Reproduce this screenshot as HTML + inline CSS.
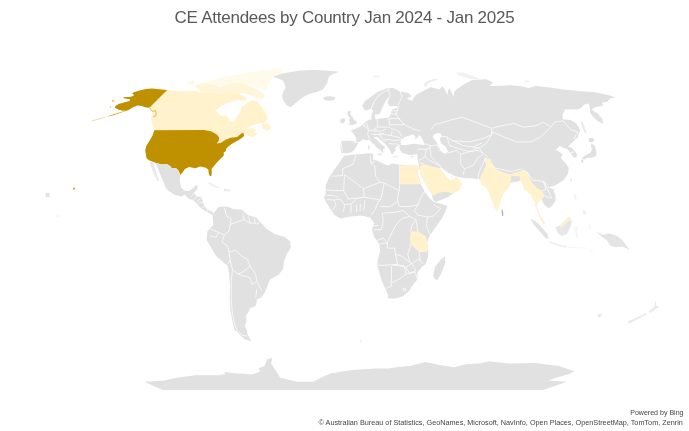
<!DOCTYPE html>
<html><head><meta charset="utf-8"><title>CE Attendees by Country</title>
<style>
html,body{margin:0;padding:0;background:#fff;}
body{width:689px;height:431px;position:relative;overflow:hidden;font-family:"Liberation Sans",sans-serif;}
#title{position:absolute;left:0;top:8px;width:689px;text-align:center;font-size:17px;color:#595959;white-space:nowrap;letter-spacing:-0.25px;}
#map{position:absolute;left:0;top:0;}
.ft{position:absolute;right:5.5px;font-size:7.05px;color:#454545;white-space:nowrap;}
</style></head><body>
<svg id="map" width="689" height="431" viewBox="0 0 689 431">
<path d="M272.8 77.0 L280.0 74.0 L287.9 72.4 L300.0 70.5 L313.4 70.1 L326.0 70.5 L339.0 71.7 L333.0 74.0 L329.7 75.9 L328.0 79.0 L327.3 82.9 L325.0 86.5 L322.7 89.8 L317.0 92.0 L311.1 93.3 L306.0 95.5 L301.8 98.0 L298.0 101.0 L294.8 103.8 L292.0 106.0 L290.2 107.3 L287.0 105.5 L284.4 102.6 L282.5 99.0 L282.1 95.6 L283.5 91.0 L285.5 87.5 L284.5 84.0 L283.2 80.5 L278.0 78.5Z" fill="#e1e1e1"/>
<path d="M323.0 98.0 L326.0 96.5 L331.0 96.3 L335.5 97.5 L334.0 100.0 L329.0 100.8 L325.0 100.2Z" fill="#e1e1e1"/>
<path d="M167.0 90.0 L172.0 90.5 L181.0 91.3 L195.0 91.0 L202.0 92.2 L209.0 93.0 L221.0 93.3 L232.0 93.0 L240.0 94.5 L247.0 97.5 L245.0 100.8 L239.0 100.3 L233.0 101.3 L226.0 103.5 L220.1 106.8 L215.9 110.5 L221.0 115.7 L227.9 115.7 L229.7 120.1 L233.1 122.7 L236.6 117.5 L240.1 112.2 L241.9 106.5 L245.3 104.5 L249.0 102.0 L252.3 100.0 L257.5 101.8 L261.9 107.0 L266.2 114.0 L268.0 119.2 L264.5 122.7 L258.0 123.5 L250.0 126.0 L246.0 129.0 L252.0 128.0 L256.0 130.0 L254.0 133.0 L258.0 133.5 L253.0 137.0 L249.0 136.5 L246.0 134.5 L244.7 134.6 L243.8 133.3 L240.0 136.5 L231.0 139.5 L226.0 141.5 L221.5 144.2 L217.5 144.6 L216.0 140.0 L214.0 134.0 L204.0 132.0 L154.2 132.0 L153.6 128.0 L153.0 126.0 L151.6 122.3 L151.0 117.0 L152.5 112.5 L149.7 107.4Z" fill="#fff2cc"/>
<path d="M262.0 124.0 L268.0 123.0 L271.0 128.0 L267.0 131.0 L263.0 129.0Z" fill="#fff2cc"/>
<path d="M195.0 85.5 L203.0 83.3 L212.0 84.2 L220.0 86.5 L228.0 84.5 L236.0 82.2 L246.0 84.0 L254.0 88.0 L261.0 92.0 L265.0 96.0 L262.0 99.0 L256.0 97.5 L250.0 95.0 L243.0 93.0 L238.0 95.0 L232.0 93.0 L221.0 93.3 L209.0 93.0 L200.0 91.5Z" fill="#fff2cc" fill-opacity="0.75"/>
<path d="M188.0 81.0 L194.0 80.0 L195.0 84.0 L189.0 84.5Z" fill="#fff2cc" fill-opacity="0.45"/>
<path d="M196.0 84.5 L210.0 80.5 L222.0 78.0 L243.5 73.5 L265.0 70.2 L280.6 68.3 L283.5 70.8 L276.0 74.5 L271.0 79.0 L269.0 85.0 L266.0 90.0 L258.0 88.0 L250.0 85.0 L240.0 83.0 L228.0 84.5 L215.0 85.5 L205.0 84.5Z" fill="#fff2cc" fill-opacity="0.42"/>
<path d="M167.2 90.1 L161.4 89.6 L152.0 88.4 L145.8 88.9 L139.5 90.4 L133.2 92.5 L132.2 93.6 L134.3 95.2 L131.1 96.7 L123.8 97.2 L123.3 98.3 L130.1 99.3 L129.6 100.9 L123.8 102.5 L118.6 104.0 L115.4 106.1 L114.9 107.7 L118.6 109.8 L122.8 110.8 L126.0 110.4 L114.0 114.2 L105.0 117.2 L114.2 114.9 L128.5 110.0 L132.2 107.7 L137.4 105.6 L141.6 106.1 L145.2 107.2 L149.4 107.7Z" fill="#bf9000"/>
<path d="M154.2 130.2 L203.9 130.1 L211.6 131.4 L216.7 134.6 L219.3 137.8 L218.6 141.0 L216.7 143.5 L220.5 142.9 L225.7 139.7 L230.8 137.8 L237.1 137.1 L241.6 133.3 L243.5 132.9 L244.2 135.9 L241.0 138.4 L237.1 141.0 L233.3 142.9 L229.5 145.4 L226.3 148.6 L225.7 151.2 L223.7 152.5 L223.7 155.7 L220.5 158.8 L216.7 162.7 L213.5 166.5 L211.6 169.1 L211.8 172.9 L211.2 176.3 L209.6 175.8 L208.8 173.5 L208.4 169.7 L205.9 167.8 L200.1 166.5 L195.3 168.2 L189.1 167.0 L184.9 169.1 L182.8 172.2 L180.3 175.0 L178.4 170.4 L175.9 167.9 L172.0 168.5 L170.1 166.0 L166.9 164.1 L161.8 164.4 L155.4 162.8 L149.0 160.2 L146.5 158.3 L145.9 154.5 L145.2 150.0 L146.5 145.5 L149.7 140.4 L152.9 134.7Z" fill="#bf9000"/>
<path d="M112.0 100.5 L114.0 100.2 L114.2 101.4 L112.3 101.6Z" fill="#bf9000" fill-opacity="0.8"/>
<path d="M109.8 106.3 L111.2 106.3 L111.2 107.5 L109.8 107.5Z" fill="#bf9000" fill-opacity="0.6"/>
<path d="M155.4 162.8 L161.8 164.4 L166.9 164.1 L170.1 166.0 L172.0 168.5 L175.9 167.9 L178.4 170.4 L180.3 175.0 L179.7 181.1 L181.2 187.4 L184.9 191.0 L189.1 191.0 L193.2 187.9 L195.9 185.3 L197.9 185.8 L197.2 189.0 L194.3 192.7 L196.4 196.3 L201.5 197.0 L203.0 202.1 L204.4 206.4 L208.1 210.1 L211.0 210.8 L213.9 213.0 L213.1 215.9 L209.5 213.0 L205.9 211.5 L201.5 208.6 L197.9 205.0 L193.5 200.6 L188.5 198.5 L184.8 194.6 L181.8 196.6 L174.4 194.7 L168.2 190.5 L165.6 187.4 L163.5 182.1 L160.9 175.9 L158.3 169.6 L155.6 163.6Z" fill="#e1e1e1"/>
<path d="M149.5 161.3 L152.8 162.3 L155.5 170.0 L159.0 180.5 L158.0 181.5 L154.0 174.0 L151.0 167.0Z" fill="#e0e0ea" fill-opacity="0.75"/>
<path d="M207.0 181.8 L212.4 184.0 L218.2 187.0 L221.5 188.8 L217.0 188.0 L211.0 185.3Z" fill="#e1e1e1" fill-opacity="0.6"/>
<path d="M224.0 188.7 L230.0 189.5 L230.0 191.5 L224.0 191.0Z" fill="#e1e1e1" fill-opacity="0.7"/>
<path d="M213.9 213.0 L217.9 207.5 L222.0 206.5 L227.4 206.8 L233.5 208.9 L242.2 209.8 L247.5 215.0 L256.2 217.6 L261.4 222.9 L266.6 229.0 L275.3 234.2 L284.0 236.8 L290.1 241.2 L291.0 247.2 L286.7 254.2 L284.0 261.2 L283.2 268.7 L278.8 274.8 L270.1 279.2 L267.5 286.1 L264.9 292.2 L261.4 297.4 L257.0 299.2 L256.2 304.4 L254.4 307.0 L250.1 307.9 L248.3 312.2 L245.7 315.7 L246.6 321.0 L244.9 326.2 L246.6 329.7 L247.6 334.7 L251.5 341.2 L244.9 339.4 L237.1 332.0 L234.4 329.7 L232.7 322.7 L230.4 310.5 L229.7 298.3 L230.1 286.1 L229.2 273.9 L227.4 265.2 L224.8 263.8 L216.1 256.0 L210.9 247.2 L206.5 239.4 L207.4 231.6 L213.5 224.6 L212.6 217.6Z" fill="#e1e1e1"/>
<path d="M344.0 155.7 L351.8 154.8 L362.2 153.9 L370.1 153.1 L373.6 154.8 L372.7 159.2 L379.7 161.8 L385.0 164.5 L388.5 165.6 L391.9 163.5 L398.8 164.4 L408.0 165.5 L417.4 165.5 L419.2 167.2 L417.4 172.4 L419.2 178.5 L420.9 184.3 L425.0 192.0 L430.2 199.1 L434.3 202.1 L442.4 204.2 L447.6 206.2 L442.4 217.4 L436.3 226.6 L430.2 234.8 L427.1 241.9 L428.2 250.1 L428.2 256.2 L426.1 263.4 L421.9 267.0 L417.5 272.2 L417.5 279.2 L413.1 284.4 L408.8 291.3 L402.7 296.6 L394.0 298.7 L387.9 298.3 L387.9 294.8 L385.3 288.7 L381.8 280.9 L379.2 272.2 L377.1 264.4 L378.2 258.3 L380.2 251.1 L379.2 244.0 L374.1 236.8 L372.0 229.7 L374.1 222.6 L370.0 217.4 L360.8 215.4 L350.6 216.4 L340.4 218.5 L334.4 214.9 L330.9 209.7 L326.5 202.7 L323.9 197.5 L325.7 194.0 L325.7 185.3 L329.2 177.4 L334.4 169.6 L339.6 162.6Z" fill="#e1e1e1"/>
<path d="M400.0 165.2 L408.0 165.5 L417.4 165.5 L419.2 167.2 L417.4 172.4 L415.7 169.5 L419.2 178.5 L420.9 184.3 L400.0 184.3Z" fill="#fff2cc"/>
<path d="M410.8 231.7 L418.0 231.3 L426.1 236.8 L427.1 241.9 L428.2 250.1 L426.1 252.1 L419.0 251.7 L414.9 248.1 L410.8 244.0 L409.8 237.9Z" fill="#fff2cc"/>
<path d="M444.5 256.2 L445.5 262.3 L441.0 273.9 L437.5 280.0 L434.9 279.2 L433.2 275.7 L434.9 267.0 L440.4 260.3Z" fill="#e1e1e1"/>
<path d="M340.4 147.9 L341.0 143.0 L342.2 141.0 L349.0 140.5 L356.1 141.8 L356.1 137.5 L353.0 133.0 L350.9 130.5 L355.0 129.0 L360.0 126.5 L363.0 124.0 L366.6 120.9 L369.0 120.0 L371.5 119.5 L371.5 116.0 L372.0 112.5 L374.5 112.5 L375.0 116.0 L375.3 119.2 L380.0 118.5 L385.0 118.0 L389.2 117.4 L391.0 113.0 L392.0 109.5 L398.0 107.5 L397.0 106.0 L389.2 106.1 L387.5 102.6 L390.1 95.7 L385.7 100.9 L382.2 107.9 L379.6 114.0 L374.4 114.8 L371.8 108.7 L364.8 110.5 L362.2 106.1 L365.0 101.0 L370.1 97.4 L377.0 92.2 L385.7 88.7 L392.7 87.8 L399.7 91.3 L408.4 93.1 L411.9 96.5 L406.6 98.3 L411.9 100.9 L414.0 97.0 L417.1 93.9 L424.0 90.4 L431.0 87.0 L439.2 89.6 L442.6 86.1 L445.2 90.0 L447.3 95.3 L448.2 90.5 L449.3 88.0 L451.2 91.5 L453.6 96.8 L454.2 92.0 L456.6 89.6 L463.5 84.4 L472.2 80.0 L486.2 79.2 L493.1 82.6 L489.7 86.1 L498.4 86.1 L510.6 85.3 L520.0 86.1 L528.7 87.9 L535.7 86.1 L546.1 87.0 L563.5 89.6 L581.0 91.3 L594.9 92.2 L607.1 94.8 L615.8 97.4 L610.6 98.3 L607.1 101.8 L601.9 102.7 L603.6 105.3 L596.6 107.0 L593.1 107.9 L592.0 110.0 L597.8 113.4 L602.2 118.8 L603.2 123.8 L598.0 121.3 L592.5 116.3 L590.0 112.3 L589.7 107.0 L588.8 103.5 L584.4 104.4 L581.0 107.9 L577.5 109.6 L565.3 109.6 L562.7 114.0 L562.7 119.2 L570.5 120.1 L575.7 122.7 L579.2 127.9 L580.1 130.4 L577.5 137.4 L572.2 142.6 L568.8 146.1 L573.0 148.8 L577.0 154.2 L576.2 157.6 L573.6 157.6 L570.4 152.8 L567.6 149.2 L563.5 147.9 L560.1 146.1 L555.7 149.6 L560.1 152.2 L562.7 154.8 L560.9 158.3 L565.3 162.7 L568.8 167.9 L567.9 174.0 L563.5 180.1 L558.3 183.6 L553.1 186.2 L547.9 187.0 L546.5 185.5 L548.0 188.0 L550.6 187.4 L554.9 193.5 L555.8 200.5 L552.3 205.7 L548.8 208.3 L545.3 205.7 L542.7 202.2 L541.9 199.6 L539.2 200.5 L536.6 205.7 L539.2 213.6 L541.9 218.8 L545.0 222.9 L543.3 223.7 L540.7 219.4 L538.1 212.4 L535.4 205.4 L535.8 202.2 L533.1 195.3 L532.3 192.0 L530.5 194.4 L527.9 191.8 L524.4 189.2 L522.7 184.0 L520.1 180.5 L516.6 181.5 L514.0 182.2 L510.5 183.1 L507.9 188.3 L503.5 193.5 L500.9 198.8 L499.2 205.7 L497.4 211.0 L494.8 207.5 L492.2 200.5 L488.7 191.8 L486.1 186.6 L481.8 184.8 L480.0 180.5 L479.3 179.4 L474.0 178.5 L461.9 177.7 L454.9 175.9 L447.9 172.4 L441.0 167.2 L440.0 168.5 L442.7 172.4 L447.0 177.7 L449.7 180.3 L454.9 179.4 L455.8 176.8 L461.9 183.8 L459.2 189.9 L453.1 193.3 L448.8 196.8 L435.7 202.0 L433.1 200.3 L431.4 193.3 L426.2 185.5 L420.9 175.1 L419.2 167.2 L418.0 161.0 L417.4 157.6 L417.4 154.2 L410.0 155.0 L402.6 153.3 L400.0 150.0 L399.0 146.5 L401.0 144.5 L397.4 145.8 L395.2 148.0 L395.8 150.5 L393.8 152.0 L393.1 154.2 L391.2 153.8 L390.0 150.5 L388.7 147.9 L386.0 145.0 L384.3 143.0 L381.0 140.2 L377.1 137.0 L375.3 137.0 L373.5 136.8 L375.0 138.5 L377.5 140.2 L380.5 143.5 L385.0 147.0 L384.3 149.5 L383.0 149.0 L383.3 152.5 L381.8 152.8 L381.0 150.5 L377.1 147.9 L373.5 143.8 L370.6 141.4 L369.2 139.5 L366.0 140.5 L363.1 139.2 L360.0 141.5 L357.0 145.0 L355.3 148.7 L352.0 152.0 L347.0 153.5 L344.0 153.0 L341.3 153.1Z" fill="#e1e1e1"/>
<path d="M401.0 139.7 L404.0 137.5 L407.4 136.3 L410.0 135.5 L413.2 134.5 L415.5 136.5 L415.0 139.2 L418.0 137.5 L417.9 135.1 L421.0 136.5 L423.7 142.1 L424.8 145.0 L420.0 144.5 L413.2 143.8 L406.3 145.0 L401.6 145.0 L400.5 142.5Z" fill="#fff"/>
<path d="M432.4 135.7 L435.5 133.8 L438.8 132.8 L441.7 134.5 L439.9 139.2 L441.1 143.2 L445.7 146.7 L448.1 151.4 L444.6 153.7 L441.1 151.4 L438.8 146.7 L436.5 142.1 L433.6 138.6Z" fill="#fff"/>
<path d="M348.1 110.9 L351.0 111.3 L350.2 114.5 L352.4 116.7 L353.9 119.6 L356.8 121.8 L356.5 123.9 L352.4 125.0 L348.1 124.7 L350.2 122.5 L348.8 120.3 L350.2 118.1 L348.1 116.0 L347.3 113.1Z" fill="#e1e1e1"/>
<path d="M340.8 118.9 L344.4 118.1 L345.4 120.3 L343.7 123.2 L340.1 122.9Z" fill="#e1e1e1"/>
<path d="M377.5 153.6 L382.0 153.4 L381.0 155.6 L378.0 155.0Z" fill="#e1e1e1" fill-opacity="0.8"/>
<path d="M368.0 145.5 L369.8 145.5 L369.8 149.5 L368.0 149.5Z" fill="#e1e1e1" fill-opacity="0.8"/>
<path d="M393.0 156.0 L398.0 156.2 L398.0 157.3 L393.0 157.2Z" fill="#e1e1e1" fill-opacity="0.7"/>
<path d="M410.5 156.2 L413.5 155.6 L413.0 157.6 L410.8 157.6Z" fill="#e1e1e1" fill-opacity="0.7"/>
<path d="M423.5 86.0 L425.0 83.0 L429.0 80.5 L434.0 79.0 L437.5 78.5 L437.0 80.0 L432.0 81.5 L428.0 83.5 L426.0 86.5Z" fill="#e1e1e1" fill-opacity="0.6"/>
<path d="M456.0 72.5 L463.0 72.5 L472.0 75.5 L480.0 78.8 L472.0 79.3 L464.0 77.0 L458.0 75.0Z" fill="#e1e1e1" fill-opacity="0.45"/>
<path d="M372.0 75.5 L379.0 75.0 L380.0 77.5 L374.0 78.0Z" fill="#e1e1e1" fill-opacity="0.35"/>
<path d="M523.0 80.5 L528.0 80.0 L531.0 81.5 L526.0 82.5Z" fill="#e1e1e1" fill-opacity="0.4"/>
<path d="M580.5 121.5 L582.0 121.5 L584.5 127.0 L586.3 132.5 L585.0 133.0 L582.5 127.5Z" fill="#e1e1e1" fill-opacity="0.8"/>
<path d="M588.6 138.2 L592.5 137.4 L594.8 140.5 L591.5 142.6 L588.8 141.5Z" fill="#e1e1e1"/>
<path d="M591.6 143.2 L594.6 145.5 L596.2 150.5 L596.5 155.5 L593.5 157.3 L591.4 157.8 L587.0 158.0 L584.0 159.8 L582.0 158.2 L585.5 155.3 L589.5 153.6 L592.0 150.0 L591.0 146.0Z" fill="#e1e1e1"/>
<path d="M581.5 159.5 L583.5 160.0 L583.0 163.0 L581.0 162.0Z" fill="#e1e1e1"/>
<path d="M570.5 178.5 L572.0 178.5 L571.5 182.0 L570.5 181.5Z" fill="#e1e1e1" fill-opacity="0.8"/>
<path d="M552.0 189.0 L554.5 189.0 L554.0 191.0 L552.0 191.0Z" fill="#e1e1e1" fill-opacity="0.8"/>
<path d="M501.6 209.5 L502.6 209.8 L503.3 213.0 L503.2 216.0 L502.2 216.0 L501.6 213.0Z" fill="#aaa8b0" fill-opacity="0.9"/>
<path d="M484.4 157.8 L490.5 158.7 L492.2 163.9 L495.7 169.2 L503.5 172.6 L510.5 174.4 L515.0 172.5 L519.2 171.8 L519.5 176.1 L517.0 176.5 L512.0 176.0 L511.0 179.0 L510.5 183.1 L507.9 188.3 L503.5 193.5 L500.9 198.8 L499.2 205.7 L497.4 211.0 L494.8 207.5 L492.2 200.5 L488.7 191.8 L486.1 186.6 L481.8 184.8 L480.0 180.5 L480.9 176.1 L483.5 170.9 L486.1 165.7 L485.0 161.0Z" fill="#fff2cc"/>
<path d="M511.5 176.5 L517.0 176.8 L519.8 180.5 L516.6 181.5 L512.5 182.3 L511.0 179.5Z" fill="#e1e1e1"/>
<path d="M519.2 171.8 L525.3 170.0 L528.8 173.5 L529.7 178.7 L533.1 184.0 L536.6 187.4 L532.3 189.2 L533.1 195.3 L535.8 202.2 L535.0 203.0 L530.5 194.4 L527.9 191.8 L524.4 189.2 L522.7 184.0 L520.1 180.5 L519.5 176.1Z" fill="#fff2cc"/>
<path d="M536.6 187.4 L541.9 190.9 L544.5 195.3 L541.9 199.6 L539.2 200.5 L536.6 205.7 L539.2 213.6 L541.9 218.8 L545.0 222.9 L543.3 223.7 L540.7 219.4 L538.1 212.4 L535.4 205.4 L535.8 202.2 L533.1 195.3 L532.3 189.2Z" fill="#fff2cc"/>
<path d="M419.2 167.2 L423.5 163.7 L430.5 166.3 L439.2 168.1 L442.7 172.4 L447.0 177.7 L449.7 180.3 L454.9 179.4 L455.8 176.8 L461.9 183.8 L459.2 189.9 L453.1 193.3 L448.8 192.5 L445.3 191.6 L437.5 193.3 L433.1 196.0 L431.4 193.3 L426.2 185.5 L420.9 175.1Z" fill="#fff2cc"/>
<path d="M530.2 218.5 L535.4 221.1 L542.4 228.1 L547.6 234.2 L548.5 238.5 L545.9 238.5 L539.8 231.6 L533.7 224.6Z" fill="#e1e1e1" fill-opacity="0.95"/>
<path d="M549.4 241.3 L559.8 244.7 L566.8 246.2 L566.8 247.6 L559.8 246.3 L549.4 243.0Z" fill="#e1e1e1" fill-opacity="0.6"/>
<path d="M555.5 227.2 L559.8 225.5 L565.9 219.4 L569.4 216.8 L572.0 221.1 L570.3 227.2 L566.8 234.2 L561.6 235.9 L557.2 232.4Z" fill="#e1e1e1" fill-opacity="0.8"/>
<path d="M559.8 225.5 L565.9 219.4 L569.4 216.8 L572.0 220.5 L568.0 221.5 L564.0 225.0 L561.0 228.0Z" fill="#fff2cc" fill-opacity="0.9"/>
<path d="M574.5 227.0 L578.0 226.5 L577.0 231.0 L578.5 238.0 L576.5 238.5 L575.0 232.0Z" fill="#e1e1e1" fill-opacity="0.3"/>
<path d="M573.5 194.0 L576.0 194.5 L576.5 199.5 L574.5 199.5Z" fill="#e1e1e1" fill-opacity="0.4"/>
<path d="M582.5 210.5 L586.0 210.5 L586.0 214.5 L583.0 214.0Z" fill="#e1e1e1" fill-opacity="0.5"/>
<path d="M596.4 231.6 L603.4 235.0 L608.6 233.3 L617.3 235.9 L622.5 240.3 L627.8 247.2 L629.5 249.9 L622.5 246.4 L615.6 247.2 L610.3 245.5 L606.9 240.3 L601.6 236.8Z" fill="#e1e1e1" fill-opacity="0.9"/>
<path d="M627.0 322.5 L629.0 321.0 L646.0 313.0 L647.0 314.2 L630.0 323.2Z" fill="#e1e1e1" fill-opacity="0.7"/>
<path d="M649.0 311.5 L654.5 306.5 L655.0 301.5 L656.0 301.5 L656.3 306.0 L660.0 306.5 L655.0 309.5 L650.5 313.0Z" fill="#e1e1e1" fill-opacity="0.7"/>
<path d="M597.5 314.5 L603.0 313.5 L599.5 317.8 L597.8 317.0Z" fill="#e1e1e1" fill-opacity="0.7"/>
<path d="M45.6 192.9 L49.6 192.9 L49.6 196.9 L45.6 196.9Z" fill="#dfe2ea"/>
<path d="M56.8 215.3 L58.3 215.3 L58.3 216.8 L56.8 216.8Z" fill="#dfe2ea" fill-opacity="0.5"/>
<path d="M73.2 187.8 L74.8 187.8 L74.8 189.4 L73.2 189.4Z" fill="#bf9000"/>
<path d="M568.0 247.0 L586.0 247.6 L586.0 248.6 L568.0 248.0Z" fill="#e1e1e1" fill-opacity="0.25"/>
<path d="M589.0 251.0 L593.0 250.0 L593.5 251.2 L589.5 252.0Z" fill="#e1e1e1" fill-opacity="0.25"/>
<path d="M588.5 224.5 L590.0 224.5 L590.5 229.0 L589.0 229.0Z" fill="#e1e1e1" fill-opacity="0.3"/>
<path d="M360.0 340.5 L362.0 340.5 L362.0 342.0 L360.0 342.0Z" fill="#e1e1e1" fill-opacity="0.6"/>
<path d="M144.4 381.7 L164.0 380.4 L177.0 377.8 L195.3 375.2 L218.8 375.2 L225.4 373.9 L224.0 372.0 L234.5 373.3 L252.8 374.4 L260.6 371.2 L258.0 368.6 L264.5 366.0 L267.1 359.5 L272.4 357.7 L271.1 363.4 L276.3 371.2 L280.2 377.8 L297.2 381.7 L313.0 381.7 L323.5 376.5 L331.3 373.3 L352.2 370.0 L375.8 368.6 L388.8 368.6 L399.3 366.8 L409.7 366.0 L425.4 362.1 L438.5 364.7 L454.1 367.3 L467.2 363.9 L480.0 363.4 L488.3 361.3 L509.2 363.4 L535.3 362.9 L558.8 366.0 L574.5 371.2 L569.3 373.9 L556.2 377.8 L548.4 380.4 L566.7 381.7 L556.2 385.6 L543.1 390.0 L162.7 390.0Z" fill="#e1e1e1"/>
<path d="M150 107.7 L151 110.3 L153.1 111.5 L155.5 110.6 L156 113 L155.8 115.8 L153 116.6" fill="none" stroke="#bf9000" stroke-width="0.7" stroke-opacity="0.75"/>
<path d="M105 117.2 L92 121" fill="none" stroke="#bf9000" stroke-width="0.7" stroke-opacity="0.45"/>
<path d="M224.4 208.1 L226.7 216.2 L231.3 218.6 L230.2 224.4 M230.2 224.4 L237.1 222.0 L244.1 219.7 L242.9 213.9 M248.7 216.2 L249.9 223.2 M254.5 218.6 L255.2 223.2 M244.1 219.7 L249.9 223.2 L255.2 223.2 L258.0 224.4 L259.5 221.5 M210.4 229.0 L218.6 232.5 L224.4 234.8 L229.0 231.3 L230.2 224.4 M209.3 236.0 L216.2 237.1 L218.6 232.5 M224.4 234.8 L222.0 241.8 L227.8 246.4 L229.0 252.2 M229.0 252.2 L230.2 260.3 L227.8 263.8 M229.0 252.2 L236.0 249.9 L240.6 255.7 L247.6 259.2 L249.9 266.1 L246.4 269.6 M230.2 260.3 L232.5 269.6 L238.3 274.2 L246.4 269.6 M249.9 266.1 L255.7 274.2 L256.8 281.2 L252.2 284.7 L249.9 277.7 L238.3 274.2 M232.5 269.6 L231.3 281.2 L231.3 299.8 L232.3 312.0 L234.5 324.0 L237.5 331.0 L243.0 335.5 L247.0 336.0 M256.8 281.2 L261.5 290.5 M256.8 289.3 L255.7 297.4 M355.8 155.7 L353.0 164.2 L342.6 168.9 M342.6 168.9 L342.6 175.5 L331.3 176.4 M344.5 174.5 L363.4 188.7 L370.9 185.8 L380.4 182.1 M370.0 155.7 L370.9 163.2 L374.7 166.0 L375.7 176.4 L380.4 182.1 M370.9 163.2 L374.7 161.3 M380.4 182.1 L384.2 183.0 L399.2 190.6 M399.4 164.6 L399.4 190.6 M399.2 190.6 L397.4 199.0 L399.2 206.6 M384.2 183.0 L382.3 193.4 L380.4 200.0 M363.4 188.7 L364.3 197.2 L370.0 198.1 L380.4 200.0 M344.5 175.0 L343.6 190.6 L334.2 190.6 L326.0 190.0 M343.6 190.6 L348.3 199.0 L357.7 198.1 L364.3 197.2 M326.0 195.5 L333.0 195.5 L338.0 197.0 M327.0 199.5 L334.0 200.0 L340.0 199.0 M334.0 200.0 L336.0 205.0 L332.5 210.0 M344.5 204.7 L343.5 212.2 M340.0 199.0 L344.5 204.7 L351.0 203.8 L357.7 198.1 M351.0 203.8 L351.0 213.2 M356.6 204.7 L356.6 212.3 M360.4 203.8 L360.0 211.3 M365.1 200.0 L363.6 210.4 M378.5 201.0 L374.7 210.4 L371.0 215.0 M380.4 200.0 L378.5 201.0 M380.4 206.6 L389.8 206.6 L397.4 201.9 M382.3 213.2 L395.5 212.3 L403.0 210.4 L409.8 216.4 M399.2 206.6 L408.7 206.6 L418.1 204.7 M418.1 204.7 L421.9 195.3 L425.7 190.6 M425.7 190.6 L430.5 196.0 L434.3 202.1 M433.2 204.7 L440.8 208.5 L433.2 216.0 L427.5 217.0 M427.5 217.0 L418.1 215.1 L414.3 210.4 L418.1 204.7 M409.8 216.4 L415.9 219.5 L418.0 231.3 M427.5 217.0 L426.5 226.0 L430.2 234.8 M374.0 229.7 L381.2 229.7 L383.3 221.5 L382.3 213.2 M372.5 226.0 L378.0 225.5 M376.0 241.0 L383.0 238.0 L387.3 243.0 M379.2 244.0 L387.3 243.0 L390.4 235.8 L395.5 225.6 L401.6 218.5 L409.8 216.4 M415.9 219.5 L411.8 225.6 L410.8 231.7 M410.8 244.0 L407.8 254.2 L409.8 262.3 L401.6 256.2 L395.5 254.2 L394.5 248.1 L387.3 248.1 L387.3 243.0 M395.5 254.2 L397.6 264.4 L381.2 265.4 L377.5 265.0 M397.6 264.4 L405.7 267.4 L411.8 263.4 L409.8 262.3 M411.8 263.4 L419.0 259.0 L420.0 260.3 M405.7 267.4 L409.8 273.6 L415.9 270.5 L411.8 263.4 M419.0 251.7 L420.0 260.3 L422.5 264.0 M391.4 266.1 L391.4 286.1 L385.3 288.7 M392.2 265.2 L404.4 266.1 L406.2 273.9 L399.2 279.2 L392.2 282.6 M406.2 273.9 L414.9 272.2 L417.5 279.2 M403.0 288.5 L405.5 288.0 L406.0 290.5 L403.5 291.0 L403.0 288.5 M341.5 143.5 L342.3 152.2 M353.9 142.1 L361.9 142.8 M361.9 124.7 L368.4 129.0 L367.7 134.8 L369.8 139.2 M366.2 121.8 L368.4 129.0 M362.0 123.0 L365.5 125.5 M377.1 118.9 L377.8 126.9 L374.2 129.0 M368.4 130.5 L377.1 129.8 M388.7 118.9 L390.2 126.1 M377.8 126.9 L390.2 127.5 M398.9 105.8 L396.0 114.5 L400.3 120.3 L404.7 124.7 L413.4 129.0 L420.6 131.2 M390.2 124.7 L404.7 124.7 M390.9 128.3 L398.9 131.2 L401.8 136.3 M388.7 118.9 L398.9 118.1 L400.3 120.3 M392.3 131.2 L390.9 135.6 L400.3 137.7 M378.5 133.4 L390.9 135.6 M384.3 139.2 L396.0 140.6 L401.0 139.5 M388.7 143.5 L398.9 144.3 M373.5 131.2 L381.4 131.2 L386.0 129.0 M371.3 134.1 L380.0 134.8 L384.0 133.0 M380.0 134.8 L382.0 138.5 L386.0 142.0 M371.3 108.7 L374.2 101.5 L379.0 95.0 L385.0 91.0 L390.0 89.5 M390.0 95.5 L388.5 90.5 M398.0 105.0 L402.0 97.0 L400.0 91.3 M389.0 110.9 L397.4 110.9 M389.0 113.8 L396.7 114.2 M431.1 129.5 L434.8 124.6 L452.1 119.7 L461.9 117.2 L469.3 119.7 L481.7 124.6 L491.6 128.3 M434.8 135.7 L447.1 136.9 L452.1 140.6 L469.3 141.9 L484.2 138.2 L491.6 134.5 L491.6 128.3 M491.6 128.3 L501.4 125.8 L513.8 123.4 L523.6 127.1 L536.0 125.8 L543.4 122.1 L550.8 127.1 M491.6 134.5 L492.8 132.0 L503.9 136.9 L516.2 141.9 L531.0 141.9 L540.9 136.9 L545.8 132.0 L550.8 127.1 M550.8 127.1 L554.5 122.1 L563.1 120.9 L570.5 129.5 L577.9 132.0 L574.2 138.2 L579.1 140.6 M568.0 146.8 L574.2 143.1 L577.0 140.0 M570.5 153.0 L574.2 151.7 M491.6 134.5 L486.6 143.1 L479.2 148.0 L482.9 153.0 L487.8 156.7 M492.2 163.9 L494.0 167.8 L511.3 171.5 L521.2 169.0 L528.6 174.0 L532.3 180.1 L543.4 181.4 L548.3 185.1 M447.1 136.9 L449.6 145.6 L457.0 148.0 L469.3 151.7 L478.0 148.0 M452.1 140.6 L463.2 145.6 L473.0 146.8 L481.7 143.1 M473.0 146.8 L478.0 148.0 L479.2 148.0 M438.5 150.0 L447.1 153.0 L457.0 150.5 L460.7 154.2 M460.7 154.2 L460.7 164.1 L464.4 169.0 L463.2 175.2 M429.9 148.0 L431.1 156.7 L438.5 164.1 L441.0 167.0 M464.4 169.0 L473.0 165.3 L478.0 157.9 L482.9 154.2 M460.7 154.2 L469.3 151.7 L478.0 150.5 L482.9 153.0 M485.4 157.9 L481.7 166.5 L479.2 171.5 L478.0 177.7 L480.5 181.4 M417.5 149.0 L426.2 149.3 L429.9 148.0 M426.2 149.3 L424.9 156.7 M424.9 156.7 L429.9 160.4 L441.0 166.5 M419.0 160.5 L424.9 156.7 M419.5 163.0 L423.5 163.7 M425.0 143.5 L430.0 146.0 L429.9 148.0 M430.0 146.0 L437.0 145.0 L438.5 148.0 M543.4 181.4 L548.0 190.0 L551.0 197.0 M544.5 195.3 L549.0 198.0 L552.0 197.5 M541.9 190.9 L546.0 189.5 L543.4 181.4 M194.3 192.7 L191.0 196.8 M196.4 196.3 L193.5 200.6 M201.5 197.0 L198.5 200.5 L196.6 202.2 M203.0 202.1 L198.5 203.5 M204.4 206.4 L201.5 208.4 M208.1 210.1 L206.0 211.6" fill="none" stroke="#fff" stroke-width="0.85" stroke-opacity="0.85" stroke-linejoin="round"/>
</svg>
<div id="title">CE Attendees by Country Jan 2024 - Jan 2025</div>
<div class="ft" id="f1" style="top:409px">Powered by Bing</div>
<div class="ft" id="f2" style="top:417.6px;font-size:7.27px;right:6.2px">© Australian Bureau of Statistics, GeoNames, Microsoft, NavInfo, Open Places, OpenStreetMap, TomTom, Zenrin</div>
</body></html>
